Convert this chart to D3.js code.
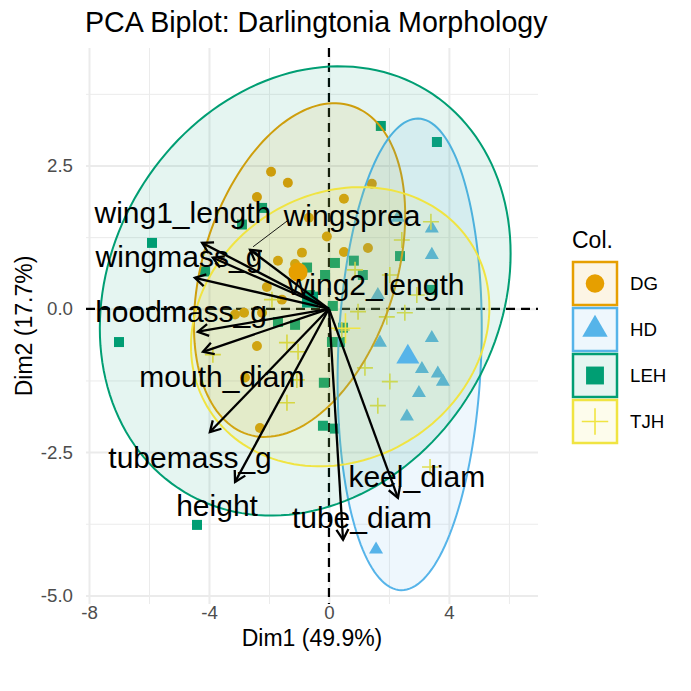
<!DOCTYPE html>
<html>
<head>
<meta charset="utf-8">
<script src="https://cdn.jsdelivr.net/npm/d3@7"></script>
<style>
  body { margin: 0; background: #fff; }
  text { font-family: "Liberation Sans", Arial, sans-serif; }
</style>
</head>
<body>
<div id="chart"></div>
<script>
// groups and palette
const groups = ['DG', 'HD', 'LEH', 'TJH'];
const groupColors = ['#E69F00', '#56B4E9', '#009E73', '#F0E442'];

// individual scores (Dim1, Dim2)
const dgX = [-1.93, -1.37, -2.40, -0.67, 0.50, 1.43, -0.07, -0.90, -1.70, 0.50, 1.30, -1.57, -3.13, -2.83, -2.23, -2.40, -2.80, -2.30, -2.07, -1.13];
const dgY = [2.39, 2.20, 1.95, 1.59, 1.92, 2.18, 1.26, 0.98, 0.84, 0.99, 1.06, 0.16, -0.10, -0.07, -0.07, -0.65, -1.20, -2.08, 0.38, 0.78];
const hdX = [2.30, 3.43, 3.43, 1.63, 1.70, 3.43, 3.10, 3.63, 3.80, 3.00, 2.60, 1.57];
const hdY = [1.59, 1.40, 0.94, 0.24, -0.59, -0.51, -1.05, -1.13, -1.27, -1.47, -1.88, -4.20];
const lehX = [1.73, 3.60, -5.90, -2.23, -2.90, -4.13, -0.73, 0.20, 0.83, 1.13, 2.37, 3.43, -0.13, -7.00, -1.13, -1.70, 0.47, 0.10, 0.37, -0.17, -0.20, 0.20, -4.40, -0.63, 0.13];
const lehY = [3.19, 2.91, 1.15, 1.76, 1.47, 0.65, 0.72, 0.80, 0.84, 0.59, 0.92, 0.33, 0.59, -0.58, -0.28, -0.23, -0.33, -0.58, -0.58, -1.29, -2.04, -2.09, -3.77, 0.24, 0.05];
const tjhX = [3.40, 2.43, 2.03, 2.93, 0.87, 0.97, 1.93, 2.53, 1.20, 2.03, 1.63, 3.37, -1.40, -1.03, -1.07, -1.40, -1.90, 0.43, -3.87];
const tjhY = [1.52, 1.20, 0.59, 0.24, 0.68, -0.05, -0.14, -0.07, -1.03, -1.27, -1.69, -2.76, -0.59, -0.75, -1.24, -1.64, 0.16, -0.37, -0.80];

// group means (big symbols)
const meanX = [-1.03, 2.63, -0.63, 0.55];
const meanY = [0.64, -0.84, 0.16, -0.34];

// points on each ellipse outline (Dim1, Dim2)
const dgEllX = [0.3, -1.3, -2.4, -3.3, -3.867, -4.233, -4.467, -4.4, -3.733, -2.733, -1.967, -0.867, 0.033, 1.267, 2.033, 2.467, 2.6, 2.467, 1.933, 1.033];
const dgEllY = [3.593, 3.349, 2.826, 2.128, 1.43, 0.733, 0.157, -1.012, -1.762, -2.163, -2.285, -2.058, -1.587, -0.89, 0.157, 1.081, 1.849, 2.302, 2.948, 3.419];
const hdEllX = [2.967, 2.033, 1.367, 0.8, 0.367, 0.3, 0.367, 0.433, 0.8, 1.6, 2.3, 3.033, 3.933, 4.6, 5.0, 5.1, 4.967, 4.6, 3.933];
const hdEllY = [3.262, 2.948, 2.302, 1.43, 0.279, -0.541, -1.587, -2.459, -3.628, -4.605, -4.989, -4.849, -4.029, -2.756, -1.291, -0.419, 1.151, 2.128, 2.948];
const lehEllX = [0.033, 1.367, 4.6, 5.933, 6.2, 6.133, 5.033, 1.933, -0.3, -2.533, -5.2, -6.867, -7.467, -7.3, -6.967, -6.3, -5.2, -3.533];
const lehEllY = [4.047, 4.082, 3.175, 2.023, 1.256, 0.733, -0.942, -2.808, -3.506, -3.733, -3.105, -2.058, -0.715, 0.279, 1.326, 2.128, 3.07, 3.698];
const tjhEllX = [0.367, 1.033, 2.467, 3.933, 4.933, 5.433, 5.133, 4.367, 3.033, 1.367, 0.033, -1.3, -2.4, -3.533, -4.3, -4.567, -4.633, -4.2, -3.533, -2.633, -1.733, -0.733];
const tjhEllY = [2.076, 2.111, 2.023, 1.605, 0.977, 0.017, -0.593, -1.413, -2.163, -2.634, -2.791, -2.686, -2.459, -2.058, -1.361, -0.715, -0.07, 0.384, 0.855, 1.326, 1.727, 2.023];

// variable loadings (arrow ends) and where the repelled labels sit
const varNames = ['wing1_length', 'wingmass_g', 'wingsprea', 'wing2_length', 'hoodmass_g', 'mouth_diam', 'tubemass_g', 'height', 'keel_diam', 'tube_diam'];
const varX = [-4.23, -3.87, -2.63, -4.47, -4.37, -4.20, -3.97, -3.13, 2.30, 0.47];
const varY = [1.15, 0.89, 1.03, 0.54, -0.40, -0.75, -2.15, -3.02, -3.30, -4.03];
const labX = [-4.87, -5.00, 0.77, 1.57, -4.93, -3.57, -4.63, -3.73, 2.93, 1.10];
const labY = [1.67, 0.91, 1.62, 0.42, -0.05, -1.19, -2.60, -3.45, -2.93, -3.66];
const repelLinks = ['wingsprea'];

const xMajor = [-8, -4, 0, 4], xMinor = [-6, -2, 2, 6];
const yMajor = [-5, -2.5, 0, 2.5], yMinor = [-3.75, -1.25, 1.25, 3.75];

const W = 691, H = 691;
const panel = { left: 86, right: 538, top: 48, bottom: 604 };

const svg = d3.select('#chart').append('svg')
  .attr('width', W).attr('height', H);

const x = d3.scaleLinear().domain([-8.1, 6.97]).range([panel.left, panel.right]);
const y = d3.scaleLinear().domain([-5.15, 4.55]).range([panel.bottom, panel.top]);

// grid lines (theme_minimal)
const pw = panel.right - panel.left, ph = panel.bottom - panel.top;
function grid(axis, values, size, width, tr) {
  const g = svg.append('g')
    .attr('transform', tr)
    .call(axis.tickValues(values).tickSize(size).tickFormat(''));
  g.select('.domain').remove();
  g.selectAll('line').attr('stroke', '#EBEBEB').attr('stroke-width', width);
}
grid(d3.axisBottom(x), xMinor, -ph, 1, `translate(0,${panel.bottom})`);
grid(d3.axisLeft(y), yMinor, -pw, 1, `translate(${panel.left},0)`);
grid(d3.axisBottom(x), xMajor, -ph, 2, `translate(0,${panel.bottom})`);
grid(d3.axisLeft(y), yMajor, -pw, 2, `translate(${panel.left},0)`);

// tick labels (plain hyphen minus like R)
const xAxis = svg.append('g')
  .attr('transform', `translate(0,${panel.bottom})`)
  .call(d3.axisBottom(x).tickValues(xMajor).tickSize(0).tickPadding(0).tickFormat(d => String(d)));
xAxis.select('.domain').remove();
xAxis.selectAll('text').attr('dy', '0.8em').attr('y', 0);
const yAxis = svg.append('g')
  .attr('transform', `translate(${panel.left},0)`)
  .call(d3.axisLeft(y).tickValues(yMajor).tickSize(0).tickPadding(13).tickFormat(d => d.toFixed(1)));
yAxis.select('.domain').remove();
[xAxis, yAxis].forEach(a => a.selectAll('text')
  .style('font-family', '"Liberation Sans", Arial, sans-serif')
  .style('font-size', '18.7px').attr('fill', '#4D4D4D'));

// zero lines
svg.append('line')
  .attr('x1', x(0)).attr('x2', x(0)).attr('y1', panel.top).attr('y2', panel.bottom)
  .attr('stroke', '#000').attr('stroke-width', 2.2).attr('stroke-dasharray', '9,6');
svg.append('line')
  .attr('x1', panel.left).attr('x2', panel.right).attr('y1', y(0)).attr('y2', y(0))
  .attr('stroke', '#000').attr('stroke-width', 2.2).attr('stroke-dasharray', '9,6');

// plus shape, stroked like ggplot shape 3
const plusType = {
  draw(ctx, size) {
    const r = Math.sqrt(size) / 2;
    ctx.moveTo(-r, 0); ctx.lineTo(r, 0);
    ctx.moveTo(0, -r); ctx.lineTo(0, r);
  }
};
const shapes = [d3.symbolCircle, d3.symbolTriangle, d3.symbolSquare, plusType];
const smallSize = [78, 85, 100, 256];
const bigSize = [285, 230, 256, 900];

function drawSymbol(g, gi, size) {
  const p = g.append('path').attr('d', d3.symbol().type(shapes[gi]).size(size)());
  if (gi === 3) p.attr('fill', 'none').attr('stroke', groupColors[gi]).attr('stroke-width', 1.6);
  else p.attr('fill', groupColors[gi]);
  return p;
}

// individuals
const groupXs = [dgX, hdX, lehX, tjhX], groupYs = [dgY, hdY, lehY, tjhY];
groups.forEach((gname, gi) => {
  const g = svg.append('g').attr('class', 'pts-' + gname);
  groupXs[gi].forEach((vx, i) => {
    const s = g.append('g').attr('transform', `translate(${x(vx)},${y(groupYs[gi][i])})`);
    drawSymbol(s, gi, smallSize[gi]);
  });
});

// least-squares conic fit of an outline -> centre + covariance
function solve(A, b) {
  const n = b.length, M = A.map((r, i) => r.concat([b[i]]));
  for (let c = 0; c < n; c++) {
    let p = c;
    for (let r = c + 1; r < n; r++) if (Math.abs(M[r][c]) > Math.abs(M[p][c])) p = r;
    [M[c], M[p]] = [M[p], M[c]];
    for (let r = c + 1; r < n; r++) {
      const f = M[r][c] / M[c][c];
      for (let k = c; k <= n; k++) M[r][k] -= f * M[c][k];
    }
  }
  const s = new Array(n).fill(0);
  for (let r = n - 1; r >= 0; r--) {
    let acc = M[r][n];
    for (let k = r + 1; k < n; k++) acc -= M[r][k] * s[k];
    s[r] = acc / M[r][r];
  }
  return s;
}
function fitEllipse(xs, ys) {
  const mx = d3.mean(xs), my = d3.mean(ys);
  const N = Array.from({ length: 5 }, () => new Array(5).fill(0)), v = new Array(5).fill(0);
  xs.forEach((px, i) => {
    const u = px - mx, w = ys[i] - my;
    const row = [u * u, u * w, w * w, u, w];
    for (let a = 0; a < 5; a++) {
      v[a] += row[a];
      for (let b = 0; b < 5; b++) N[a][b] += row[a] * row[b];
    }
  });
  const [A, B, C, D, E] = solve(N, v);
  const det = 4 * A * C - B * B;
  const u0 = (B * E - 2 * C * D) / det, w0 = (B * D - 2 * A * E) / det;
  const K = 1 - (A * u0 * u0 + B * u0 * w0 + C * w0 * w0 + D * u0 + E * w0);
  const dm = A * C - B * B / 4;
  return { cx: mx + u0, cy: my + w0, sxx: K * C / dm, syy: K * A / dm, sxy: -K * B / 2 / dm };
}

// concentration ellipses
const ellXs = [dgEllX, hdEllX, lehEllX, tjhEllX], ellYs = [dgEllY, hdEllY, lehEllY, tjhEllY];
const ellLine = d3.line().x(d => x(d[0])).y(d => y(d[1])).curve(d3.curveLinearClosed);
groups.forEach((gname, gi) => {
  const e = fitEllipse(ellXs[gi], ellYs[gi]);
  const l11 = Math.sqrt(e.sxx), l21 = e.sxy / l11, l22 = Math.sqrt(e.syy - l21 * l21);
  const pts = d3.range(0, 160).map(k => {
    const t = k / 160 * 2 * Math.PI;
    return [e.cx + l11 * Math.cos(t), e.cy + l21 * Math.cos(t) + l22 * Math.sin(t)];
  });
  svg.append('path')
    .attr('d', ellLine(pts))
    .attr('fill', groupColors[gi]).attr('fill-opacity', 0.1)
    .attr('stroke', groupColors[gi]).attr('stroke-width', 2);
});

// group means
groups.forEach((gname, gi) => {
  const s = svg.append('g').attr('transform', `translate(${x(meanX[gi])},${y(meanY[gi])})`);
  drawSymbol(s, gi, bigSize[gi]);
});

// variable arrows
const ox = x(0), oy = y(0);
varNames.forEach((v, i) => {
  const ex = x(varX[i]), ey = y(varY[i]);
  const ang = Math.atan2(ey - oy, ex - ox);
  const hl = 12, ha = Math.PI / 6;
  const g = svg.append('g').attr('stroke', '#000').attr('stroke-width', 2.3).attr('fill', 'none');
  g.append('line').attr('x1', ox).attr('y1', oy).attr('x2', ex).attr('y2', ey);
  g.append('path').attr('d',
    `M${ex - hl * Math.cos(ang - ha)},${ey - hl * Math.sin(ang - ha)}L${ex},${ey}L${ex - hl * Math.cos(ang + ha)},${ey - hl * Math.sin(ang + ha)}`);
});

// variable labels, with the ggrepel connector where the label sits far away
const segLayer = svg.append('g');
varNames.forEach((v, i) => {
  const t = svg.append('text')
    .attr('x', x(labX[i])).attr('y', y(labY[i]))
    .attr('dy', '0.33em')
    .attr('text-anchor', 'middle')
    .style('font-size', '30px')
    .attr('fill', '#000')
    .text(v);
  if (repelLinks.includes(v)) {
    const b = t.node().getBBox();
    const ex = x(varX[i]), ey = y(varY[i]);
    const sx = Math.max(b.x + 6, Math.min(ex, b.x + b.width));
    const sy = Math.max(b.y, Math.min(ey, b.y + b.height - 12));
    segLayer.append('line')
      .attr('x1', sx).attr('y1', sy).attr('x2', ex + 3).attr('y2', ey - 3)
      .attr('stroke', '#000').attr('stroke-width', 0.9);
  }
});

// titles
svg.append('text').attr('x', 85).attr('y', 32)
  .style('font-size', '28.6px').attr('fill', '#000')
  .text('PCA Biplot: Darlingtonia Morphology');
svg.append('text').attr('x', (panel.left + panel.right) / 2).attr('y', 646)
  .attr('text-anchor', 'middle').style('font-size', '23px').attr('fill', '#000')
  .text('Dim1 (49.9%)');
svg.append('text')
  .attr('transform', `translate(32,${(panel.top + panel.bottom) / 2}) rotate(-90)`)
  .attr('text-anchor', 'middle').style('font-size', '23px').attr('fill', '#000')
  .text('Dim2 (17.7%)');

// legend
const leg = svg.append('g').attr('transform', 'translate(572,0)');
leg.append('text').attr('x', 0).attr('y', 248)
  .style('font-size', '23px').attr('fill', '#000').text('Col.');
groups.forEach((gname, gi) => {
  const ky = 262 + gi * 46;
  leg.append('rect').attr('x', 1).attr('y', ky).attr('width', 44).attr('height', 43)
    .attr('fill', groupColors[gi]).attr('fill-opacity', 0.1)
    .attr('stroke', groupColors[gi]).attr('stroke-width', 2.5);
  const s = leg.append('g').attr('transform', `translate(23,${ky + 21.5})`);
  drawSymbol(s, gi, [270, 280, 320, 700][gi]);
  leg.append('text').attr('x', 58).attr('y', ky + 21.5).attr('dy', '0.35em')
    .style('font-size', '18.7px').attr('fill', '#000').text(gname);
});
</script>
</body>
</html>
